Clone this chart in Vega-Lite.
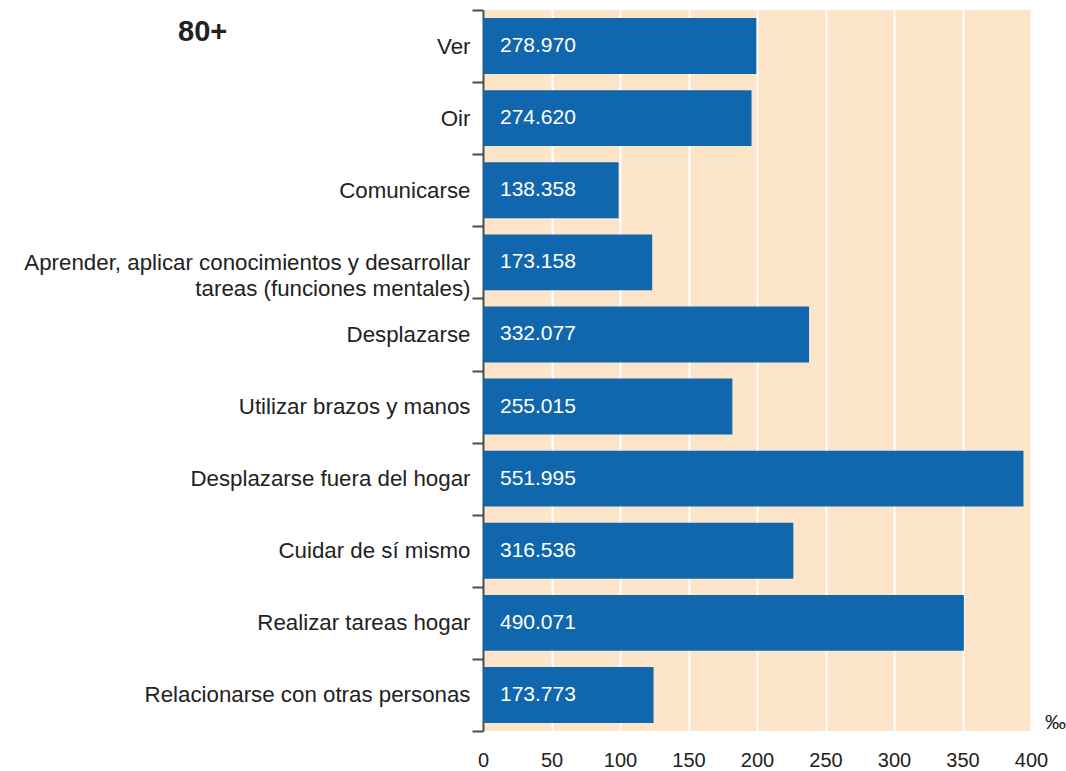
{
  "$schema": "https://vega.github.io/schema/vega-lite/v6.json",
  "width": 548,
  "height": 721,
  "autosize": {"type": "none"},
  "padding": {"left": 483, "top": 10, "right": 35, "bottom": 40},
  "background": "white",
  "title": {
    "text": "80+",
    "fontSize": 29,
    "fontWeight": "bold",
    "color": "#222222",
    "anchor": "start",
    "frame": "group",
    "dx": -305,
    "dy": 48,
    "offset": 0,
    "baseline": "top"
  },
  "config": {
    "view": {"fill": "#fde5c9", "stroke": null},
    "font": "Liberation Sans"
  },
  "data": {
    "values": [
      {"cat": "Ver", "v": 199.5, "label": "278.970"},
      {"cat": "Oir", "v": 196, "label": "274.620"},
      {"cat": "Comunicarse", "v": 99, "label": "138.358"},
      {"cat": "Aprender, aplicar conocimientos y desarrollar tareas (funciones mentales)", "v": 123.5, "label": "173.158"},
      {"cat": "Desplazarse", "v": 238, "label": "332.077"},
      {"cat": "Utilizar brazos y manos", "v": 182, "label": "255.015"},
      {"cat": "Desplazarse fuera del hogar", "v": 394.5, "label": "551.995"},
      {"cat": "Cuidar de sí mismo", "v": 226.5, "label": "316.536"},
      {"cat": "Realizar tareas hogar", "v": 351, "label": "490.071"},
      {"cat": "Relacionarse con otras personas", "v": 124.5, "label": "173.773"}
    ]
  },
  "encoding": {
    "y": {
      "field": "cat",
      "type": "nominal",
      "sort": null,
      "scale": {"paddingInner": 0, "paddingOuter": 0},
      "axis": {
        "title": null,
        "domain": true,
        "domainColor": "#4a4a4a",
        "domainWidth": 2,
        "ticks": true,
        "tickBand": "extent",
        "tickSize": 11,
        "tickWidth": 2,
        "tickColor": "#4a4a4a",
        "labelFontSize": 22.3,
        "labelColor": "#222222",
        "labelPadding": 2,
        "labelLimit": 600,
        "labelLineHeight": 26,
        "labelExpr": "datum.value == 'Aprender, aplicar conocimientos y desarrollar tareas (funciones mentales)' ? ['Aprender, aplicar conocimientos y desarrollar', 'tareas (funciones mentales)'] : datum.label"
      }
    }
  },
  "layer": [
    {
      "mark": {"type": "bar", "color": "#1167ad", "height": {"band": 0.775}},
      "encoding": {
        "x": {
          "field": "v",
          "type": "quantitative",
          "scale": {"domain": [0, 400], "nice": false},
          "axis": {
            "title": "‰",
            "titleX": 572,
            "titleY": -9,
            "titleFontSize": 21,
            "titleFontWeight": "normal",
            "titleColor": "#222222",
            "titleAlign": "center",
            "titleBaseline": "middle",
            "domain": false,
            "ticks": false,
            "grid": true,
            "gridColor": "white",
            "gridWidth": 2,
            "values": [0, 50, 100, 150, 200, 250, 300, 350, 400],
            "labelFontSize": 20,
            "labelColor": "#222222",
            "labelPadding": 19,
            "labelFlush": false
          }
        }
      }
    },
    {
      "mark": {"type": "text", "align": "left", "baseline": "middle", "dx": 17, "color": "white", "fontSize": 21},
      "encoding": {
        "x": {"datum": 0, "type": "quantitative"},
        "text": {"field": "label"}
      }
    }
  ]
}
